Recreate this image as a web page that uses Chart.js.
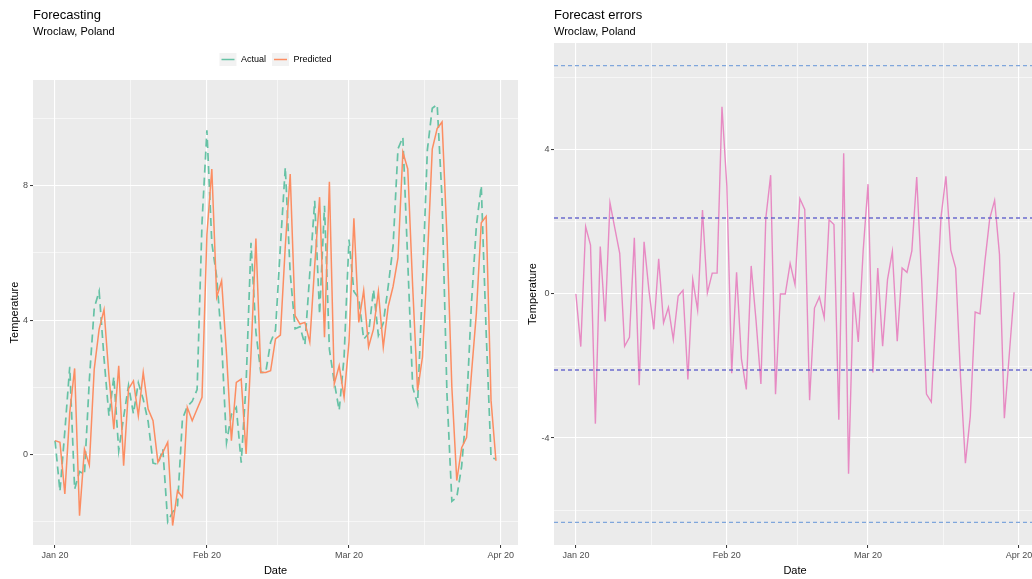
<!DOCTYPE html>
<html>
<head>
<meta charset="utf-8">
<title>Forecasting - Wroclaw</title>
<script src="https://cdn.jsdelivr.net/npm/chart.js@4.4.1/dist/chart.umd.min.js"></script>
<style>
  html, body { margin: 0; padding: 0; background: #ffffff; overflow: hidden; }
  #wrap { position: relative; width: 1032px; height: 579px; overflow: hidden; }
  #forecastBox { position: absolute; left: 0; top: 0; width: 520px; height: 579px; }
  #errorBox { position: absolute; left: 520px; top: 0; width: 516px; height: 579px; }
</style>
</head>
<body>
<div id="wrap">
  <div id="forecastBox"><canvas id="forecastChart" width="520" height="579"></canvas></div>
  <div id="errorBox"><canvas id="errorChart" width="516" height="579"></canvas></div>
</div>
<script>
// daily temperature, 2020-01-01 .. 2020-03-31 (x = day number from Jan 1)
const actual = [
  0.41, -1.1, 0.69, 2.61, -1.04, -0.51, -0.6, 2.21, 4.36, 4.86,
  2.86, 1.14, 2.31, 0.11, 1.11, 2.05, 1.21, 2.13, 1.64, 0.98,
  -0.26, -0.3, 0.16, -2.01, -1.72, -1.53, 1.05, 1.43, 1.58, 1.93,
  6.9, 9.65, 6.3, 5.28, 3.36, 0.35, 1.19, 1.4, -0.25, 2.11,
  6.3, 3.65, 2.44, 2.44, 3.34, 3.7, 6.2, 8.55, 5.4, 3.74,
  3.8, 3.27, 5.4, 7.55, 4.17, 7.4, 3.13, 2.15, 1.31, 2.9,
  6.4, 4.85, 4.65, 3.43, 3.6, 4.91, 3.54, 3.91, 5.0, 6.2,
  9.1, 9.45, 5.72, 2.0, 1.5, 5.05, 9.07, 10.31, 10.42, 7.6,
  1.8, -1.4, -1.28, -0.35, 1.4, 4.5, 6.8, 8.0, 3.64, -0.1,
  -0.14
];

const predicted = [
  0.41, 0.36, -1.18, 1.25, 2.56, -1.83, 0.16, -0.32, 2.54, 3.73,
  4.31, 2.34, 0.75, 2.64, -0.34, 1.95, 2.19, 1.15, 2.44, 1.35,
  1.0, -0.24, 0.06, 0.36, -2.12, -1.08, -1.28, 1.4, 1.0, 1.35,
  1.7, 6.55, 8.5, 4.68, 5.17, 3.0, 0.41, 2.14, 2.24, 0.01,
  3.0, 6.43, 2.44, 2.44, 2.49, 3.44, 3.55, 6.2, 8.35, 4.13,
  3.88, 3.93, 3.34, 5.62, 7.66, 3.49, 8.12, 2.1, 2.64, 1.7,
  3.35, 7.03, 3.93, 4.88, 3.2, 3.73, 4.85, 3.19, 4.4, 5.0,
  5.85, 9.0, 8.5, 5.0, 1.9, 2.9, 5.8, 9.09, 9.7, 9.9,
  6.5, 2.0, -0.78, 0.2, 0.5, 2.4, 4.2, 6.9, 7.09, 1.6,
  -0.19
];

// actual - predicted
const errors = [
  0, -1.46, 1.87, 1.36, -3.6, 1.32, -0.76, 2.53, 1.82, 1.13,
  -1.45, -1.2, 1.56, -2.53, 1.45, 0.1, -0.98, 0.98, -0.8, -0.37,
  -1.26, -0.06, 0.1, -2.37, 0.4, -0.45, 2.33, 0.03, 0.58, 0.58,
  5.2, 3.0, -2.2, 0.6, -1.81, -2.65, 0.78, -0.74, -2.5, 2.1,
  3.3, -2.78, 0, 0, 0.85, 0.26, 2.65, 2.35, -2.95, -0.39,
  -0.08, -0.66, 2.06, 1.93, -3.49, 3.91, -4.99, 0.05, -1.33, 1.2,
  3.05, -2.18, 0.72, -1.45, 0.4, 1.18, -1.31, 0.72, 0.6, 1.2,
  3.25, 0.45, -2.78, -3.0, -0.4, 2.15, 3.27, 1.22, 0.72, -2.3,
  -4.7, -3.4, -0.5, -0.55, 0.9, 2.1, 2.6, 1.1, -3.45, -1.7,
  0.05
];

// error bands: 1 sd and 3 sd
const errorSd = [2.11, 6.34];

const monthStarts = [0, 31, 60, 91];
const monthLabels = ['Jan 20', 'Feb 20', 'Mar 20', 'Apr 20'];
const monthMids = [15.5, 45.5, 75.5];

const tempTicks = [0, 4, 8];
const tempMinor = [-2, 2, 6, 10];
const errTicks = [-4, 0, 4];
const errMinor = [-6, -2, 2, 6];

const xMin = -4.5;
const xMax = 94.5;

Chart.defaults.font.family = "'Liberation Sans', Arial, sans-serif";
Chart.defaults.color = '#4D4D4D';

const toPoints = arr => arr.map((y, i) => ({x: i, y: y}));

// grey ggplot-like panel behind the plot area
const panelBackground = {
  id: 'panelBackground',
  beforeDraw(chart) {
    const {ctx, chartArea: a} = chart;
    ctx.save();
    ctx.fillStyle = '#EBEBEB';
    ctx.fillRect(a.left, a.top, a.right - a.left, a.bottom - a.top);
    ctx.restore();
  }
};

// legend keys: light grey square with a short line of the series colour
const legendKeys = {
  id: 'legendKeys',
  afterDraw(chart) {
    const legend = chart.legend;
    if (!legend || !legend.options.display) return;
    const ctx = chart.ctx;
    legend.legendItems.forEach((item, i) => {
      const box = legend.legendHitBoxes[i];
      const cy = box.top + box.height / 2;
      ctx.save();
      ctx.fillStyle = '#F2F2F2';
      ctx.fillRect(box.left, cy - 6.5, 17, 13);
      ctx.strokeStyle = chart.data.datasets[item.datasetIndex].borderColor;
      ctx.lineWidth = 1.5;
      ctx.beginPath();
      ctx.moveTo(box.left + 2, cy);
      ctx.lineTo(box.left + 15, cy);
      ctx.stroke();
      ctx.restore();
    });
  }
};

function gridStyle(majors) {
  return {
    color: '#FFFFFF',
    lineWidth: c => majors.includes(c.tick.value) ? 1.1 : 0.55,
    tickColor: c => majors.includes(c.tick.value) ? '#333333' : 'rgba(0,0,0,0)',
    tickLength: 3,
    tickWidth: 1
  };
}

function dateAxis() {
  return {
    type: 'linear',
    min: xMin,
    max: xMax,
    afterBuildTicks: s => {
      s.ticks = monthStarts.concat(monthMids).sort((a, b) => a - b).map(v => ({value: v}));
    },
    afterFit: s => { s.height = 34; },
    ticks: {
      autoSkip: false,
      maxRotation: 0,
      padding: 2,
      color: '#4D4D4D',
      font: {size: 9},
      callback: v => {
        const k = monthStarts.indexOf(v);
        return k >= 0 ? monthLabels[k] : '';
      }
    },
    grid: gridStyle(monthStarts),
    border: {display: false},
    title: {display: true, text: 'Date', color: '#000000', font: {size: 11}, padding: {top: 0, bottom: 1.4}}
  };
}

function tempAxis(min, max, majors, minors, width, labelPad, titlePad) {
  return {
    type: 'linear',
    min: min,
    max: max,
    afterBuildTicks: s => {
      s.ticks = majors.concat(minors).sort((a, b) => a - b).map(v => ({value: v}));
    },
    afterFit: s => { s.width = width; },
    ticks: {
      autoSkip: false,
      padding: labelPad,
      color: '#4D4D4D',
      font: {size: 9},
      callback: v => majors.includes(v) ? String(v) : ''
    },
    grid: gridStyle(majors),
    border: {display: false},
    title: {display: true, text: 'Temperature', color: '#000000', font: {size: 11}, padding: {top: titlePad, bottom: 0}}
  };
}

function headings(title) {
  return {
    title: {
      display: true, text: title, align: 'start', fullSize: false,
      color: '#000000', font: {size: 13, weight: 'normal'},
      padding: {top: 7.2, bottom: 0}
    },
    subtitle: {
      display: true, text: 'Wroclaw, Poland', align: 'start', fullSize: false,
      color: '#000000', font: {size: 11},
      padding: {top: 2.6, bottom: 4.4}
    },
    tooltip: {enabled: false}
  };
}

// 실제값 vs 예측값
const ctx = document.querySelector('#forecastChart');
const forecastPlugins = headings('Forecasting');
forecastPlugins.legend = {
  display: true,
  position: 'top',
  fullSize: false,
  labels: {
    boxWidth: 17,
    boxHeight: 21,
    padding: 6,
    color: '#000000',
    font: {size: 9},
    generateLabels: chart => chart.data.datasets.map((ds, i) => ({
      text: ds.label,
      fillStyle: 'rgba(0,0,0,0)',
      strokeStyle: 'rgba(0,0,0,0)',
      lineWidth: 0,
      hidden: false,
      datasetIndex: i
    }))
  }
};

const forecastChart = new Chart(ctx, {
  type: 'line',
  data: {
    datasets: [{
      label: 'Actual',
      data: toPoints(actual),
      borderColor: '#66C2A5',
      borderWidth: 1.7,
      borderDash: [8, 5],
      pointRadius: 0,
      tension: 0,
      order: 2
    }, {
      label: 'Predicted',
      data: toPoints(predicted),
      borderColor: '#FC8D62',
      borderWidth: 1.5,
      pointRadius: 0,
      tension: 0,
      order: 1
    }]
  },
  options: {
    responsive: false,
    animation: false,
    devicePixelRatio: 1,
    layout: {padding: {left: 0, right: 2, top: 0, bottom: 0}},
    plugins: forecastPlugins,
    scales: {
      x: dateAxis(),
      y: tempAxis(-2.7, 11.15, tempTicks, tempMinor, 33, 2, 7.9)
    }
  },
  plugins: [panelBackground, legendKeys]
});

// 예측 오차
const ctx2 = document.querySelector('#errorChart');
const bandLine = (y, color, width) => ({
  data: [{x: xMin, y: y}, {x: xMax, y: y}],
  borderColor: color,
  borderWidth: width,
  borderDash: [4, 3],
  pointRadius: 0,
  order: 1
});

const errorPlugins = headings('Forecast errors');
errorPlugins.legend = {display: false};

const errorChart = new Chart(ctx2, {
  type: 'line',
  data: {
    datasets: [{
      label: 'Error',
      data: toPoints(errors),
      borderColor: '#E78AC3',
      borderWidth: 1.4,
      pointRadius: 0,
      tension: 0,
      order: 2
    },
    bandLine(errorSd[0], 'rgba(85, 85, 200, 0.85)', 1.3),
    bandLine(-errorSd[0], 'rgba(85, 85, 200, 0.85)', 1.3),
    bandLine(errorSd[1], '#7FA6DC', 1.2),
    bandLine(-errorSd[1], '#7FA6DC', 1.2)]
  },
  options: {
    responsive: false,
    animation: false,
    devicePixelRatio: 1,
    layout: {padding: {left: 0, right: 0, top: 0, bottom: 0}},
    plugins: errorPlugins,
    scales: {
      x: dateAxis(),
      y: tempAxis(-6.97, 6.97, errTicks, errMinor, 34, 1.5, 6.4)
    }
  },
  plugins: [panelBackground]
});
</script>
</body>
</html>
